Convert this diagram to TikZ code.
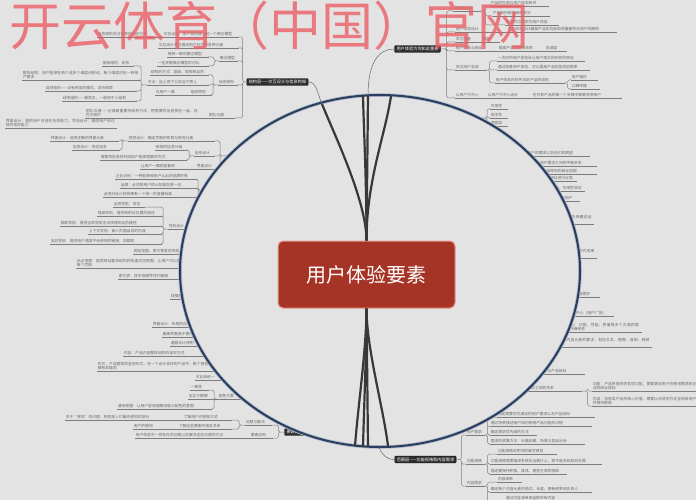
\documentclass[tikz,border=0pt]{standalone}
\usepackage{fontspec}
\usepackage{xcolor}
\usepackage{tikz}
\usetikzlibrary{positioning, calc}
\newfontfamily\cjk{Noto Sans CJK SC}
\XeTeXlinebreaklocale "zh"
\XeTeXlinebreakskip=0pt plus 1pt
\definecolor{bgGray}{RGB}{227,227,227}
\definecolor{lineGray}{RGB}{125,125,125}
\definecolor{textGray}{RGB}{105,105,105}
\definecolor{topicDark}{RGB}{45,45,45}
\definecolor{coreRed}{RGB}{166,52,38}
\definecolor{coreEdge}{RGB}{232,150,140}
\definecolor{ringBlue}{RGB}{40,62,96}
\definecolor{wmRed}{RGB}{236,92,100}

\begin{document}
\begin{tikzpicture}[x=1pt, y=-1pt,
    leaf/.style={anchor=south west, inner sep=0.6pt, text width=#1, align=left, text=textGray,
        font=\cjk\fontsize{3.8}{4.6}\selectfont,
        append after command={(\tikzlastnode.south west) edge[draw=lineGray, line width=0.5pt] (\tikzlastnode.south east)}},
    topic/.style={fill=topicDark, draw=black, line width=0.3pt, rounded corners=1pt, text=white,
        font=\cjk\fontsize{4.2}{5}\selectfont, inner xsep=2pt, inner ysep=1.5pt},
    core/.style={fill=coreRed, draw=coreEdge, line width=1pt, rounded corners=5pt, minimum width=177pt,
        minimum height=67pt, text=white, font=\cjk\fontsize{20}{24}\selectfont},
    brk/.style={draw=lineGray, line width=0.5pt, rounded corners=1.5pt},
    fan/.style={draw=black!78, line width=2.2pt},
    link/.style={draw=black!60, line width=0.5pt},
    wm/.style={text=wmRed, opacity=0.78, font=\cjk\fontsize{52}{60}\selectfont, inner sep=0pt},
]
\useasboundingbox (0,0) rectangle (696,500);
\fill[bgGray] (0,0) rectangle (696,500);

% Structure branch (top left)
\node[topic] (jg) at (277.5,82) {结构层——交互设计与信息构架};
\node[leaf=58pt] (jA1) at (97,37) {信息架构关注信息的组织方式};
\node[leaf=74pt] (jA2) at (163,37) {交互设计：用户如何建立起一个概念模型};
\node[leaf=79pt] (jA3) at (158,48) {交互设计关注描述用户行为的各种元素};
\node[leaf=40pt] (jA4) at (167,57) {保持一致的概念模型};
\node[leaf=50pt] (jA5) at (157,66) {一些关键概念模型的对比};
\node[leaf=17pt] (jGn) at (219,61) {概念模型};
\node[leaf=57pt] (jB1) at (150,75) {结构的方式：层级、矩阵和自然};
\node[leaf=60pt] (jB2) at (147,85) {方法：自上而下以及自下而上};
\node[leaf=22pt] (jB3) at (155,95) {与用户一致};
\node[leaf=20pt] (jB4) at (190,95) {组织原则};
\node[leaf=18pt] (jXj) at (218,85) {信息架构};
\node[leaf=30pt] (jC1) at (102,66) {层级结构：树状};
\node[leaf=116pt] (jC2) at (22,80) {矩阵结构：用户能够在两个或多个维度间移动，每个维度对应一种用户需求};
\node[leaf=90pt] (jC3) at (45,91) {自然结构——没有明显的模式，适合探索};
\node[leaf=73pt] (jC4) at (62,101) {线性结构——最常见，一般用于小结构};
\node[leaf=113pt] (jD1) at (85,118) {团队沟通——记录着重要的结构方法，把需要的信息放在一起，存在文档中};
\node[leaf=25pt] (jD2) at (208,118) {团队沟通};

\draw[brk] (jA1.south east) -- (jA2.south west);
\draw[brk] (jB3.south east) -- (jB4.south west);
\draw[brk] (jD1.south east) -- (jD2.south west);
\draw[brk] (jg.west) -- ++(-4,0) |- (jA2.south east) (jg.west) -- ++(-4,0) |- (jA3.south east)
  (jg.west) -- ++(-4,0) |- (jGn.south east) (jg.west) -- ++(-4,0) |- (jXj.south east)
  (jg.west) -- ++(-4,0) |- (jD2.south east);
\draw[brk] (jGn.south west) -- ++(-5,0) |- (jA4.south east) (jGn.south west) -- ++(-5,0) |- (jA5.south east);
\draw[brk] (jXj.south west) -- ++(-5,0) |- (jB1.south east) (jXj.south west) -- ++(-5,0) |- (jB2.south east)
  (jXj.south west) -- ++(-5,0) |- (jB4.south east);
\draw[brk] (jB2.south west) -- ++(-6,0) |- (jC1.south east) (jB2.south west) -- ++(-6,0) |- (jC2.south east)
  (jB2.south west) -- ++(-6,0) |- (jC3.south east) (jB2.south west) -- ++(-6,0) |- (jC4.south east);

% Skeleton and surface branches (left, running under the ring)
\coordinate (cB1) at (245,156);
\coordinate (cB2) at (225,190);
\coordinate (cB3) at (200,229);
\node[leaf=110pt] (lE0) at (5,128) {界面设计：提供用户完成任务的能力；导航设计：提供用户去往目的地的能力};
\node[leaf=67pt] (lE1) at (50,141) {界面设计：选择正确的界面元素};
\node[leaf=85pt] (lE2) at (128,141) {视觉设计：确定页面的布局与视觉元素};
\node[leaf=46pt] (lE3) at (72,150) {信息设计：传达信息};
\node[leaf=30pt] (lE4) at (155,150) {有效的信息分组};
\node[leaf=85pt] (lE5) at (100,160) {需要将信息排列成用户能够理解的方式};
\node[leaf=45pt] (lE6) at (140,169) {让用户一眼就能看到};
\node[leaf=19pt] (lEp) at (194,156) {信息设计};
\node[leaf=19pt] (lEq) at (196,169) {界面设计};
\draw[brk] (lE2.south west) -- ++(-6,0) |- (lE1.south east) (lE2.south west) -- ++(-6,0) |- (lE3.south east);
\draw[brk] (lEp.south west) -- ++(-5,0) |- (lE4.south east) (lEp.south west) -- ++(-5,0) |- (lE5.south east);
\draw[brk] (lE6.south east) -- (lEq.south west);
\draw[brk] (cB1) -- ++(-25,0) |- (lE2.south east) (cB1) -- ++(-25,0) |- (lEp.south east)
  (cB1) -- ++(-25,0) |- (lEq.south east);

\node[leaf=80pt] (lF1) at (115,179) {企业识别：一种能够被用户认出的品牌形象};
\node[leaf=75pt] (lF2) at (120,188) {品牌：必须将用户的认知放在第一位};
\node[leaf=92pt] (lF3) at (103,197) {必须对设计的效果有一个统一的度量标准};
\draw[brk] (cB2) -- ++(-27,0) |- (lF1.south east) (cB2) -- ++(-27,0) |- (lF2.south east)
  (cB2) -- ++(-27,0) |- (lF3.south east);

\node[leaf=30pt] (lG1) at (113,207) {全局导航：常见};
\node[leaf=63pt] (lG2) at (97,216) {局部导航：提供到附近位置的途径};
\node[leaf=100pt] (lG3) at (60,226) {辅助导航：提供全局导航无法快速到达的捷径};
\node[leaf=72pt] (lG4) at (88,234) {上下文导航：嵌入页面自身的内容};
\node[leaf=110pt] (lG5) at (50,244) {友好导航：提供用户通常不会用到的链接，如帮助};
\node[leaf=20pt] (lGp) at (168,229) {导航设计};
\draw[brk] (lGp.south west) -- ++(-5,0) |- (lG1.south east) (lGp.south west) -- ++(-5,0) |- (lG2.south east)
  (lGp.south west) -- ++(-5,0) |- (lG3.south east) (lGp.south west) -- ++(-5,0) |- (lG4.south east)
  (lGp.south west) -- ++(-5,0) |- (lG5.south east);
\draw[brk] (lGp.south east) -- (cB3);

\node[leaf=60pt] (lH1) at (133,254) {网站地图、索引等其他导航};
\node[leaf=116pt] (lH2) at (76,268) {站点地图：提供网站整体结构的快速浏览视图，让用户可以直接到达每个页面};
\node[leaf=72pt] (lH3) at (118,279) {索引表：按字母顺序排列链接};
\node[leaf=30pt] (lH4) at (170,299) {线框图};

\node[leaf=48pt] (lI1) at (152,327) {界面设计：布局的设计};
\node[leaf=43pt] (lI2) at (162,337) {确保界面易于使用};
\node[leaf=40pt] (lI3) at (170,346) {遵循设计惯例};
\node[leaf=87pt] (lI4) at (123,356) {内容：产品内容整体结构的呈现方式};
\node[leaf=118pt] (lI5) at (97,371) {形式：产品整体的呈现形式，在一个设计良好的产品中，每个视觉决定都有其理由};

\node[leaf=30pt] (lJ1) at (195,380) {对比和统一};
\node[leaf=17pt] (lJ2) at (190,390) {一致性};
\node[leaf=24pt] (lJ3) at (188,399) {忠实于眼睛};
\node[leaf=22pt] (lJ4) at (218,399) {配色方案};
\node[leaf=93pt] (lJ5) at (117,409) {清晰易懂：让用户容易理解排版与配色的意图};
\draw[brk] (lJ3.south east) -- (lJ4.south west);
\draw[brk] (lJ4.south west) -- ++(-4,0) |- (lJ2.south east) (lJ4.south west) -- ++(-4,0) |- (lJ5.south east);

% Applying the elements (bottom left)
\node[topic] (ys) at (297,432) {要素的应用};
\node[leaf=103pt] (lK1) at (65,420) {关于“感知”的问题：视觉是人们最先感知的部分};
\node[leaf=47pt] (lK2) at (183,420) {了解用户的感知方式};
\node[leaf=27pt] (lK3) at (133,429) {用户的感知};
\node[leaf=52pt] (lK4) at (178,429) {了解这些要素的相互关系};
\node[leaf=25pt] (lKp1) at (245,425) {问题与解决};
\node[leaf=100pt] (lK5) at (135,438) {用户体验中一样存在的问题以及解决这些问题的方法};
\node[leaf=21pt] (lKp2) at (250,438) {要素应用};
\draw[brk] (lK1.south east) -- (lK2.south west);
\draw[brk] (lK3.south east) -- (lK4.south west);
\draw[brk] (lK5.south east) -- (lKp2.south west);
\draw[brk] (lKp1.south west) -- ++(-6,0) |- (lK2.south east) (lKp1.south west) -- ++(-6,0) |- (lK4.south east);
\draw[brk] (ys.west) -- ++(-6,0) |- (lKp1.south east) (ys.west) -- ++(-6,0) |- (lKp2.south east);

% Why user experience matters (top right)
\node[topic] (yh) at (417.5,49) {用户体验为何如此重要};
\node[leaf=57pt] (cM1) at (490,6) {产品的外观与用户体验有关};
\node[leaf=26pt] (cMp) at (453,11) {体验和设计};
\node[leaf=56pt] (cM2) at (492,16) {产品如何被使用的部分};
\node[leaf=52pt] (cM3) at (505,25) {产品的功能即为用户体验};
\node[leaf=38pt] (cN1) at (455,32) {用户体验设计};
\node[leaf=108pt] (cN2) at (507,32) {用户体验设计确保产品的功能和质量都符合用户的期待};
\node[leaf=23pt] (cN3) at (455,42) {关注质量};
\node[leaf=16pt] (cN4) at (482,42) {细节};
\node[leaf=35pt] (cP1) at (455,51) {用户体验与商业};
\node[leaf=42pt] (cP2) at (498,51) {提高产品的使用效率};
\node[leaf=20pt] (cP3) at (545,51) {忠诚度};
\node[leaf=86pt] (cQ1) at (497,61) {一次好的用户体验会让用户再次回到你的网站};
\node[leaf=30pt] (cQp) at (455,70) {关注用户忠诚};
\node[leaf=91pt] (cQ2) at (497,70) {通过改善用户体验，可以提高产品的投资回报率};
\node[leaf=68pt] (cQ3) at (495,83) {用户体验的好坏决定产品的成败};
\node[leaf=25pt] (cQ4) at (571,80) {用户留存};
\node[leaf=27pt] (cQ5) at (571,89) {口碑传播};
\node[leaf=25pt] (cS1) at (455,98) {以用户为中心};
\node[leaf=33pt] (cS2) at (487,98) {以用户为中心设计};
\node[leaf=88pt] (cS3) at (532,98) {在开发产品的每一个步骤中都要考虑用户};
\draw[brk] (cMp.south east) -- ++(5,0) |- (cM1.south west) (cMp.south east) -- ++(5,0) |- (cM2.south west)
  (cMp.south east) -- ++(5,0) |- (cM3.south west);
\draw[brk] (cN1.south east) -- (cN2.south west);
\draw[brk] (cN3.south east) -- (cN4.south west);
\draw[brk] (cP1.south east) -- (cP2.south west) (cP2.south east) -- (cP3.south west);
\draw[brk] (cQp.south east) -- ++(3,0) |- (cQ1.south west) (cQp.south east) -- ++(3,0) |- (cQ2.south west)
  (cQp.south east) -- ++(3,0) |- (cQ3.south west);
\draw[brk] (cQ3.south east) -- ++(3,0) |- (cQ4.south west) (cQ3.south east) -- ++(3,0) |- (cQ5.south west);
\draw[brk] (cS1.south east) -- (cS2.south west) (cS2.south east) -- (cS3.south west);
\draw[brk] (yh.east) -- ++(6,0) |- (cMp.south west) (yh.east) -- ++(6,0) |- (cN1.south west)
  (yh.east) -- ++(6,0) |- (cN3.south west) (yh.east) -- ++(6,0) |- (cP1.south west)
  (yh.east) -- ++(6,0) |- (cQp.south west) (yh.east) -- ++(6,0) |- (cS1.south west);

% Strategy branch (right, running under the ring)
\coordinate (cC1) at (465,118);
\node[leaf=16pt] (cT1) at (490,109) {可用性};
\node[leaf=16pt] (cT2) at (490,118) {易学性};
\node[leaf=16pt] (cT3) at (490,126) {满意度};
\draw[brk] (cC1) -- ++(22,0) |- (cT1.south west) (cC1) -- ++(22,0) |- (cT2.south west)
  (cC1) -- ++(22,0) |- (cT3.south west);
\node[leaf=88pt] (cU1) at (500,156) {用户需求：了解用户的需求以及他们的期望};
\node[leaf=90pt] (cU2) at (505,166) {需要明确产品目标与用户需求之间的平衡关系};
\node[leaf=95pt] (cU3) at (500,174) {产品目标：企业希望通过产品得到的商业回报};
\node[leaf=60pt] (cU4) at (515,181) {用户细分：按照用户特征进行分类};
\node[leaf=63pt] (cU5) at (520,191) {用户研究：问卷、访谈、可用性测试};
\node[leaf=48pt] (cU6) at (530,201) {创建人物角色来代表用户};
\node[leaf=57pt] (cU7) at (535,224) {团队角色和流程：谁负责确定战略，以及如何沟通};
\node[leaf=45pt] (cU8) at (550,258) {战略文档：用户研究成果与产品目标};
\node[leaf=43pt] (cV1) at (555,297) {功能规格和内容需求};
\node[leaf=52pt] (cV2) at (560,316) {以用户为中心（用户广告）};
\node[leaf=90pt] (cV3) at (550,332) {以用户为中心：功能、性能、质量等多个方面的需求，都需要仔细考虑};
\node[leaf=120pt] (cV4) at (530,347) {内容需求：对于各种内容元素的要求，包括文本、图像、音频、视频等，都需要明确定义};
\node[leaf=63pt] (cW1) at (520,374) {网站的用户需求与产品目标};
\node[leaf=80pt] (cW2) at (500,391) {用户需求与产品目标之间的关系};
\node[leaf=104pt] (cW3) at (592,391) {功能：产品所提供的各项功能，需要满足用户的使用需求和企业的商业目标};
\node[leaf=104pt] (cW4) at (592,406) {内容：信息类产品的核心价值，需要以合适的方式呈现给用户并保持更新};
\draw[brk] (cW2.south east) -- ++(6,0) |- (cW3.south west) (cW2.south east) -- ++(6,0) |- (cW4.south west);

% Scope branch (bottom right)
\node[topic] (fw) at (425.5,459.5) {范围层——功能规格和内容需求};
\node[leaf=96pt] (cX1) at (497,417) {确定需要优先满足的用户需求以及产品目标};
\node[leaf=100pt] (cX2) at (490,426) {通过场景描述用户如何使用产品功能的过程};
\node[leaf=17pt] (cXp) at (466,435) {用户需求};
\node[leaf=45pt] (cX3) at (490,435) {确定需求优先级的方法};
\node[leaf=93pt] (cX4) at (490,444) {需求的收集方法：头脑风暴、场景与竞品分析};
\node[leaf=58pt] (cY1) at (497,454) {功能规格说明书的编写原则};
\node[leaf=17pt] (cYp) at (466,464) {功能规格};
\node[leaf=110pt] (cY2) at (490,464) {功能规格需要描述系统应当做什么，而不是系统如何去做};
\node[leaf=75pt] (cY3) at (490,474) {描述要保持积极、具体，避免主观的措辞};
\node[leaf=23pt] (cZ1) at (497,482) {内容清单};
\node[leaf=17pt] (cZp) at (466,486) {内容需求};
\node[leaf=100pt] (cZ2) at (490,492) {确定每个内容元素的格式、长度、更新频率和负责人};
\node[leaf=65pt] (cZ3) at (505,501) {通过内容清单来追踪所有内容};
\draw[brk] (cXp.south east) -- ++(3,0) |- (cX1.south west) (cXp.south east) -- ++(3,0) |- (cX2.south west)
  (cXp.south east) -- ++(3,0) |- (cX3.south west) (cXp.south east) -- ++(3,0) |- (cX4.south west);
\draw[brk] (cYp.south east) -- ++(3,0) |- (cY1.south west) (cYp.south east) -- ++(3,0) |- (cY2.south west)
  (cYp.south east) -- ++(3,0) |- (cY3.south west);
\draw[brk] (cZp.south east) -- ++(3,0) |- (cZ1.south west) (cZp.south east) -- ++(3,0) |- (cZ2.south west)
  (cZp.south east) -- ++(3,0) |- (cZ3.south west);
\draw[brk] (fw.east) -- ++(5,0) |- (cXp.south west) (fw.east) -- ++(5,0) |- (cYp.south west)
  (fw.east) -- ++(5,0) |- (cZp.south west);

% Ring covering the map
\filldraw[fill=bgGray, draw=ringBlue!35, line width=3.6pt] (380,271) ellipse [x radius=200, y radius=176];
\draw[draw=ringBlue, line width=2pt] (380,271) ellipse [x radius=200, y radius=176];

% Central topic and its fan of branches
\node[core] (ctr) at (366.5,274.5) {用户体验要素};
\coordinate (fT1) at (322,104);
\coordinate (fT2) at (363,96);
\coordinate (fT3) at (368,96);
\coordinate (fT4) at (391,96);
\coordinate (fB1) at (355,446);
\coordinate (fB2) at (363,447);
\coordinate (fB3) at (368,447);
\coordinate (fB4) at (388,446);
\coordinate (fBx) at (379,447);
\draw[fan] (ctr.north) .. controls +(0,-40) and +(12,30) .. (fT1);
\draw[fan] (ctr.north) .. controls +(0,-60) and +(1,40) .. (fT2);
\draw[fan] (ctr.north) -- (fT3);
\draw[fan] (ctr.north) .. controls +(0,-60) and +(-6,40) .. (fT4);
\draw[fan] (ctr.south) .. controls +(0,40) and +(3,-40) .. (fB1);
\draw[fan] (ctr.south) .. controls +(0,40) and +(1,-40) .. (fB2);
\draw[fan] (ctr.south) -- (fB3);
\draw[fan] (ctr.south) .. controls +(0,40) and +(-5,-40) .. (fB4);

% Thin links out of the ring
\draw[link] (fT1) .. controls +(-5,-12) and +(8,0) .. (jg.east);
\draw[link] (fT3) .. controls +(0,-35) and +(-15,0) .. (yh.west);
\draw[link] (fBx) .. controls +(3,8) and +(-8,0) .. (fw.west);

% Watermark
\node[wm, anchor=base west] (wmTitle) at (9,46) {开云体育（中国）官网};
\end{tikzpicture}
\end{document}
